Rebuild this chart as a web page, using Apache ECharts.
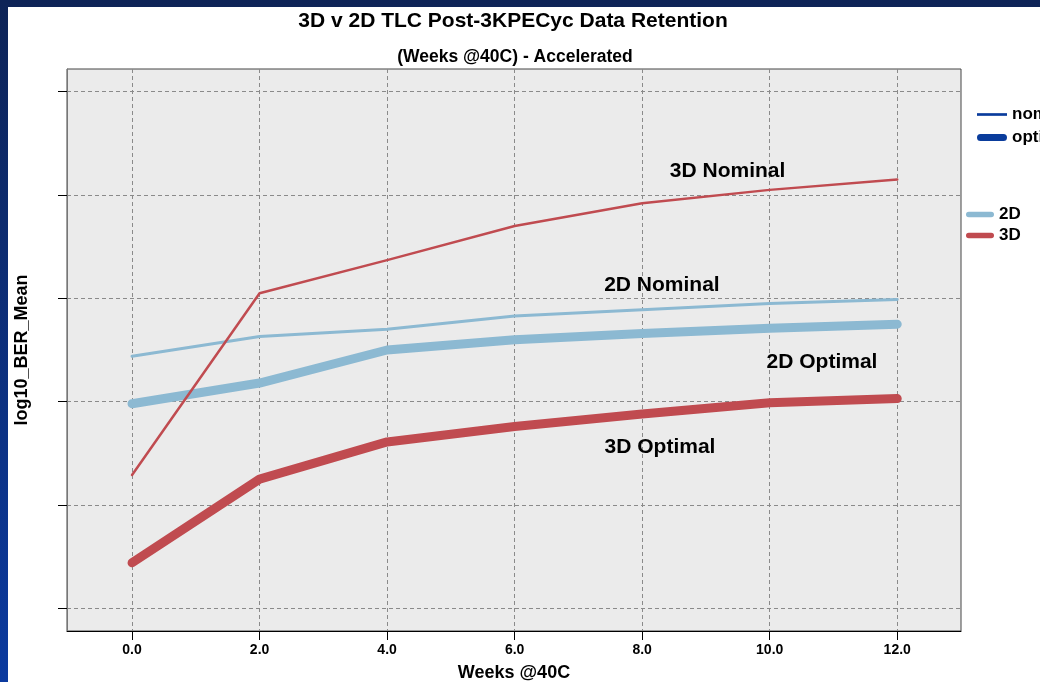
<!DOCTYPE html>
<html>
<head>
<meta charset="utf-8">
<script src="https://cdn.jsdelivr.net/npm/echarts@6/dist/echarts.min.js"></script>
<style>
  html, body { margin: 0; padding: 0; width: 1040px; height: 682px; overflow: hidden;
    background: linear-gradient(to bottom, #0e2457 0%, #0b3a9f 100%); }
  #chart { position: absolute; left: 8px; top: 7px; width: 1032px; height: 675px; background: #fff; }
</style>
</head>
<body>
<div id="chart"></div>
<script>
// weeks @40C
var weeks = [0, 2, 4, 6, 8, 10, 12];
// log10 BER mean (axis has no labels, values in gridline units)
var nominal3D = [1.29, 3.05, 3.37, 3.70, 3.92, 4.05, 4.15];
var nominal2D = [2.44, 2.63, 2.70, 2.83, 2.89, 2.95, 2.99];
var optimal2D = [1.98, 2.18, 2.50, 2.60, 2.66, 2.71, 2.75];
var optimal3D = [0.44, 1.25, 1.61, 1.76, 1.88, 1.99, 2.03];
var xTicks = [0, 2, 4, 6, 8, 10, 12];
var yTicks = [0, 1, 2, 3, 4, 5];
// where the series names sit, in data units
var label3DNom = [9.34, 4.23];
var label2DNom = [8.31, 3.13];
var label2DOpt = [10.82, 2.38];
var label3DOpt = [8.28, 1.56];

var red = '#c04b50';
var blue = '#8cb9d2';
var navy = '#0a3c9c';
var font = 'Liberation Sans, Arial, sans-serif';

function pairs(ys) {
  return weeks.map(function(w, i) { return [w, ys[i]]; });
}

function nameMark(pos) {
  return {
    symbol: 'circle', symbolSize: 1, silent: true,
    itemStyle: { color: 'rgba(0,0,0,0)' },
    label: { show: true, position: 'inside', color: '#000', fontFamily: font, fontWeight: 'bold', fontSize: 21,
      formatter: function(p) { return p.seriesName; } },
    data: [{ coord: pos }]
  };
}

function dataLine(name, ys, color, width, pos) {
  return {
    name: name, type: 'line', data: pairs(ys), showSymbol: false, symbol: 'none',
    lineStyle: { color: color, width: width, cap: 'round', join: 'round' },
    itemStyle: { color: color },
    markPoint: nameMark(pos)
  };
}

function legendOnly(name, color) {
  return { name: name, type: 'line', data: [], symbol: 'none', color: color,
    itemStyle: { color: color }, lineStyle: { color: color } };
}

var chart = echarts.init(document.getElementById('chart'), null, { renderer: 'canvas' });
chart.setOption({
  animation: false,
  textStyle: { fontFamily: font },
  graphic: [
    { type: 'text', x: 505, y: 4, style: { text: '3D v 2D TLC Post-3KPECyc Data Retention', font: 'bold 21px ' + font, fill: '#000', textAlign: 'center' } },
    { type: 'text', x: 507, y: 41, style: { text: '(Weeks @40C) - Accelerated', font: 'bold 17.5px ' + font, fill: '#000', textAlign: 'center' } }
  ],
  legend: [
    { orient: 'vertical', left: 969, top: 99, padding: 0, itemWidth: 30, itemHeight: 14, itemGap: 6,
      textStyle: { fontFamily: font, fontWeight: 'bold', fontSize: 17, color: '#000' },
      data: [
        { name: 'nominal', icon: 'path://M0,0h28v2.5h-28z', itemStyle: { color: navy } },
        { name: 'optimal', icon: 'path://M4,0h26a4,4,0,0,1,0,8h-26a4,4,0,0,1,0,-8z', itemStyle: { color: navy } }
      ] },
    { orient: 'vertical', left: 958, top: 199, padding: 0, itemWidth: 28, itemHeight: 14, itemGap: 4,
      textStyle: { fontFamily: font, fontWeight: 'bold', fontSize: 17, color: '#000' },
      data: [
        { name: '2D', icon: 'path://M3,0h24a3,3,0,0,1,0,6h-24a3,3,0,0,1,0,-6z', itemStyle: { color: blue } },
        { name: '3D', icon: 'path://M3,0h24a3,3,0,0,1,0,6h-24a3,3,0,0,1,0,-6z', itemStyle: { color: red } }
      ] }
  ],
  grid: { left: 59, top: 62, right: 79, bottom: 51, outerBoundsMode: 'none',
    show: true, backgroundColor: '#ebebeb', borderColor: '#444', borderWidth: 1 },
  xAxis: {
    type: 'value', min: -1.02, max: 13,
    name: 'Weeks @40C', nameLocation: 'middle', nameGap: 33,
    nameTextStyle: { fontFamily: font, fontWeight: 'bold', fontSize: 18, color: '#000' },
    axisLine: { onZero: false, lineStyle: { color: '#000', width: 1 } },
    axisTick: { customValues: xTicks, length: 9, lineStyle: { color: '#000' } },
    axisLabel: { customValues: xTicks, margin: 12, color: '#000', fontWeight: 'bold', fontSize: 14,
      formatter: function(v) { return v.toFixed(1); } },
    splitLine: { show: true, lineStyle: { color: '#8a8a8a', type: [4, 3] } }
  },
  yAxis: {
    type: 'value', min: -0.22, max: 5.22,
    name: 'log10_BER_Mean', nameLocation: 'middle', nameGap: 36,
    nameTextStyle: { fontFamily: font, fontWeight: 'bold', fontSize: 18, color: '#000' },
    axisLine: { show: true, onZero: false, lineStyle: { color: '#777', width: 1 } },
    axisTick: { show: true, customValues: yTicks, length: 9, lineStyle: { color: '#000' } },
    axisLabel: { show: false, customValues: yTicks },
    splitLine: { show: true, lineStyle: { color: '#8a8a8a', type: [4, 3] } }
  },
  series: [
    dataLine('2D Optimal', optimal2D, blue, 9, label2DOpt),
    dataLine('2D Nominal', nominal2D, blue, 3, label2DNom),
    dataLine('3D Optimal', optimal3D, red, 9, label3DOpt),
    dataLine('3D Nominal', nominal3D, red, 2.5, label3DNom),
    legendOnly('nominal', navy),
    legendOnly('optimal', navy),
    legendOnly('2D', blue),
    legendOnly('3D', red)
  ]
});
window.addEventListener('resize', function() { chart.resize(); });
</script>
</body>
</html>
